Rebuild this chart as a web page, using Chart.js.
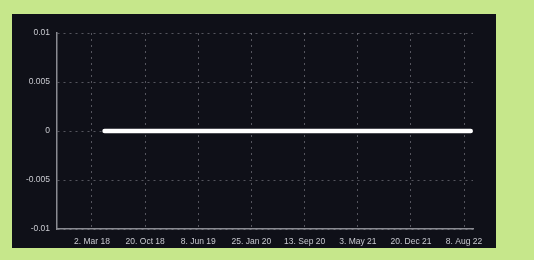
<!DOCTYPE html>
<html lang="en">
<head>
    <meta charset="UTF-8">
    <title>Flat Series</title>
    <script src="https://cdn.jsdelivr.net/npm/chart.js"></script>
    <style>
        html, body {
            margin: 0;
            padding: 0;
            background: #c6e78b;
            width: 534px;
            height: 260px;
            overflow: hidden;
        }
        .chart-box {
            position: absolute;
            left: 12px;
            top: 14px;
            width: 484px;
            height: 234px;
            background: #0f1018;
        }
    </style>
</head>
<body>
    <div class="chart-box">
        <canvas id="myChart" width="484" height="234"></canvas>
    </div>

    <script>
        // series points (date, value)
        const seriesDates = ['2018-04-26', '2018-10-01', '2019-04-01', '2019-10-01', '2020-04-01',
                             '2020-10-01', '2021-04-01', '2021-10-01', '2022-04-01', '2022-09-06'];
        const seriesValues = [0, 0, 0, 0, 0, 0, 0, 0, 0, 0];

        // x axis tick dates and labels
        const tickDates = ['2018-03-02', '2018-10-20', '2019-06-08', '2020-01-25',
                           '2020-09-13', '2021-05-03', '2021-12-20', '2022-08-08'];
        const tickLabels = ['2. Mar 18', '20. Oct 18', '8. Jun 19', '25. Jan 20',
                            '13. Sep 20', '3. May 21', '20. Dec 21', '8. Aug 22'];

        const yTicks = [-0.01, -0.005, 0, 0.005, 0.01];

        const DAY = 86400000;
        const toDay = s => Date.parse(s) / DAY;

        const points = seriesDates.map((d, i) => ({ x: toDay(d), y: seriesValues[i] }));
        const tickDays = tickDates.map(toDay);

        const txt = '#c9cad0';
        const gridCol = 'rgba(200, 200, 210, 0.38)';

        new Chart(document.getElementById('myChart'), {
            type: 'line',
            data: {
                datasets: [{
                    data: points,
                    borderColor: '#ffffff',
                    borderWidth: 4.5,
                    borderCapStyle: 'round',
                    pointRadius: 0,
                    tension: 0,
                    clip: false
                }]
            },
            options: {
                responsive: false,
                animation: false,
                layout: { padding: { top: 19, right: 23, left: 0, bottom: 0 } },
                plugins: { legend: { display: false }, tooltip: { enabled: false } },
                scales: {
                    x: {
                        type: 'linear',
                        min: tickDays[0] - 152,
                        max: tickDays[tickDays.length - 1] + 39,
                        afterBuildTicks: axis => { axis.ticks = tickDays.map(v => ({ value: v })); },
                        afterFit: axis => { axis.height = 19; },
                        grid: { color: gridCol, lineWidth: 1, drawTicks: false },
                        border: { display: true, color: '#8a8b92', width: 1.5, dash: [2, 4] },
                        ticks: {
                            color: txt,
                            font: { family: 'Liberation Sans', size: 8.5 },
                            padding: 8,
                            maxRotation: 0,
                            autoSkip: false,
                            callback: v => tickLabels[tickDays.indexOf(v)]
                        }
                    },
                    y: {
                        min: -0.01,
                        max: 0.01,
                        afterBuildTicks: axis => { axis.ticks = yTicks.map(v => ({ value: v })); },
                        afterFit: axis => { axis.width = 45; },
                        grid: { color: gridCol, lineWidth: 1, drawTicks: false },
                        border: { display: true, color: '#8a8b92', width: 1.5, dash: [2, 4] },
                        ticks: {
                            color: txt,
                            font: { family: 'Liberation Sans', size: 8.5 },
                            padding: 7,
                            callback: v => String(v)
                        }
                    }
                }
            }
        });
    </script>
</body>
</html>
